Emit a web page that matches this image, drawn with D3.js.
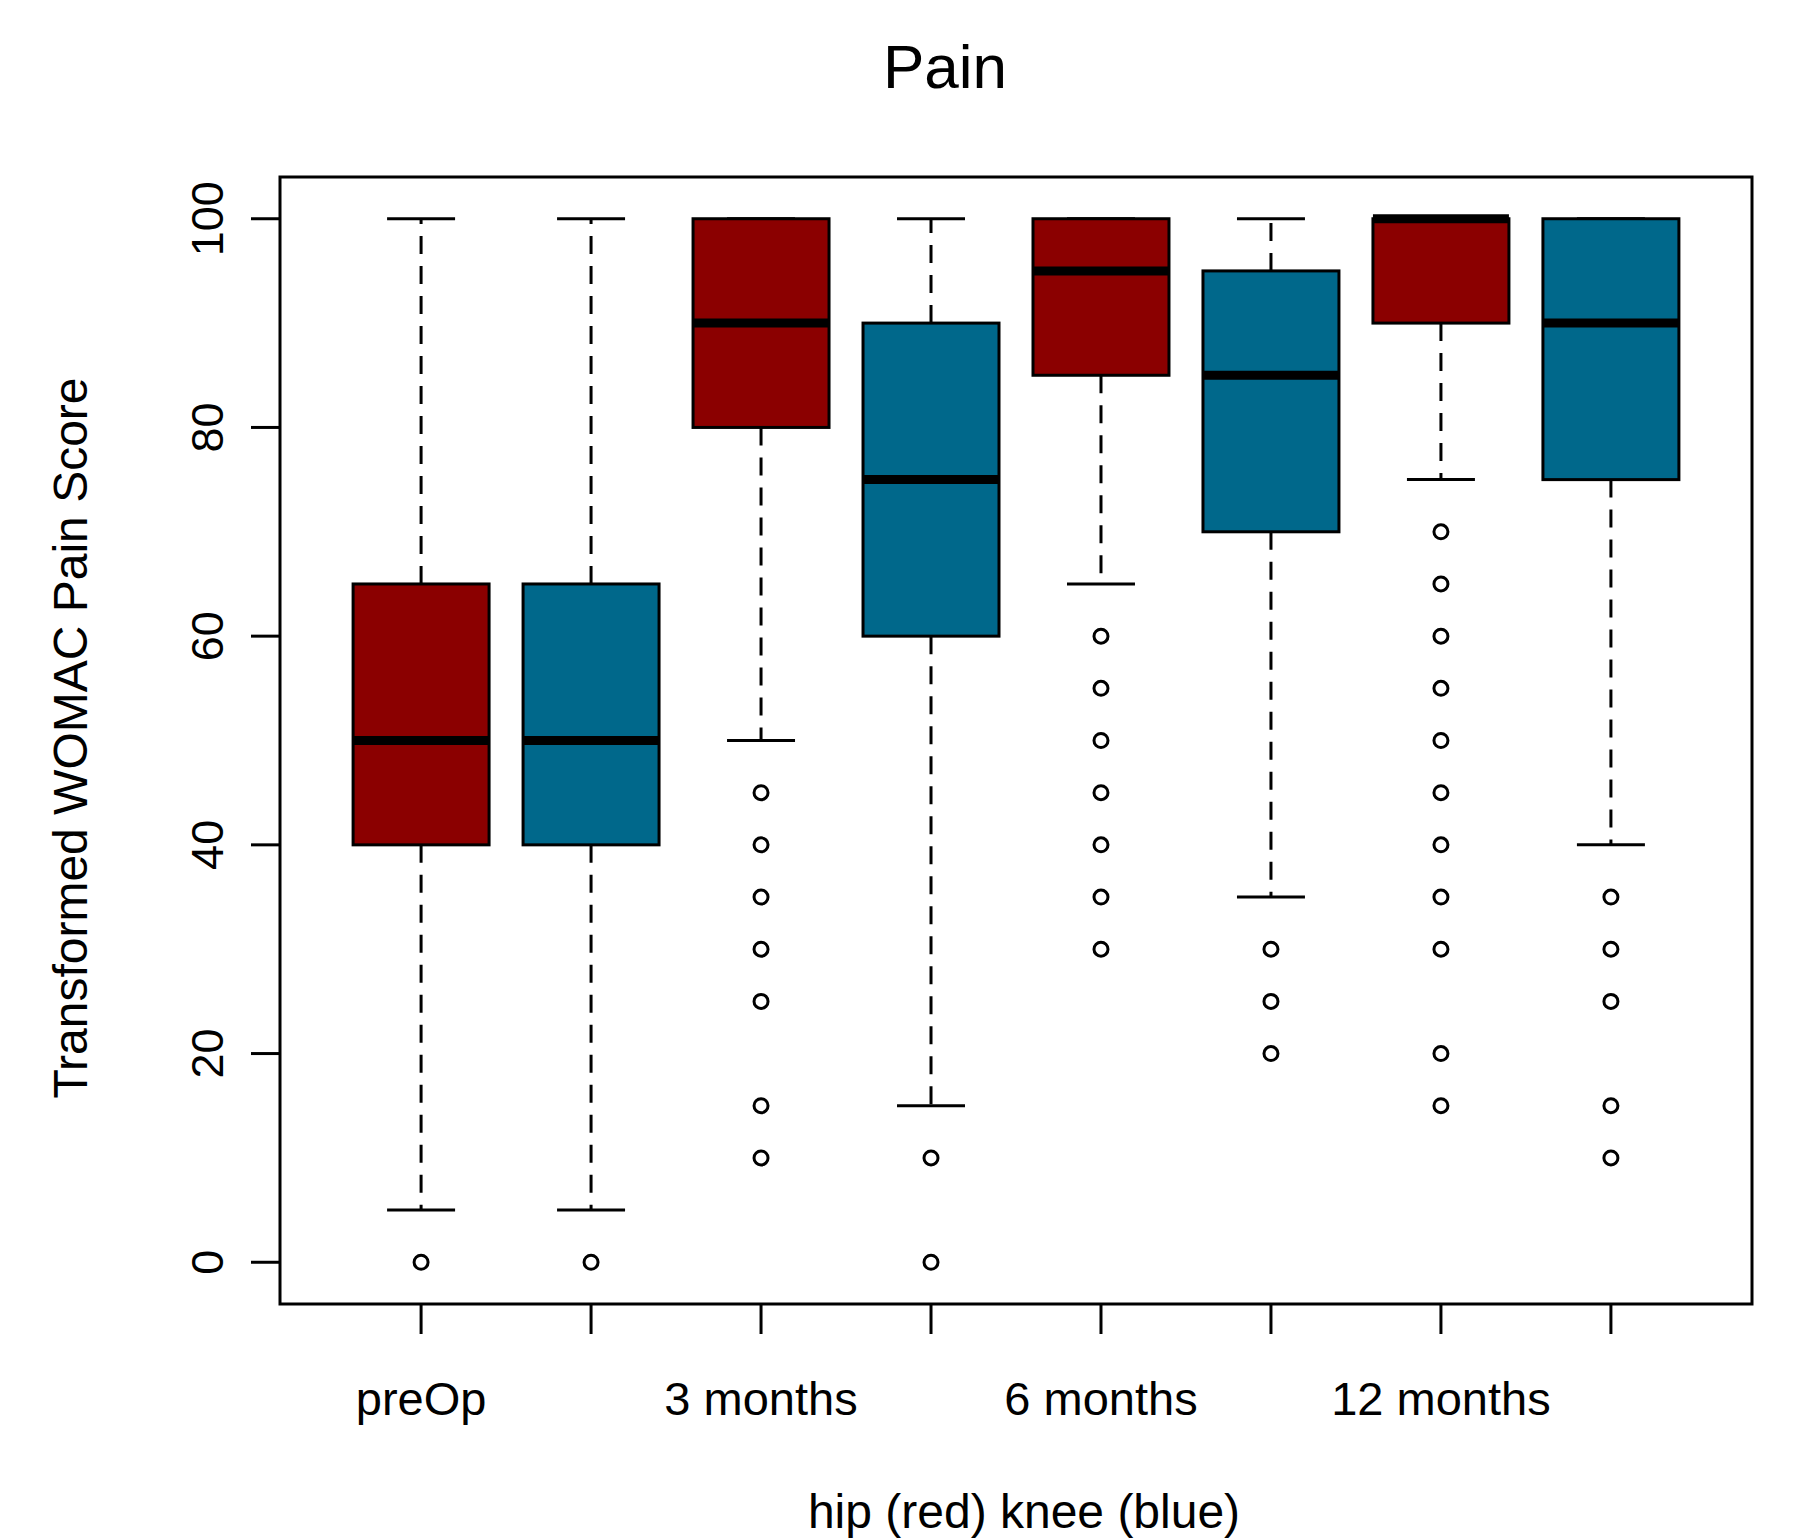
<!DOCTYPE html>
<html>
<head>
<meta charset="utf-8">
<script src="https://cdn.jsdelivr.net/npm/d3@7.9.0/dist/d3.min.js"></script>
<style>
  body { margin: 0; background: #fff; }
  text { font-family: "Liberation Sans", Arial, sans-serif; fill: #000; }
</style>
</head>
<body>
<svg id="chart" width="1794" height="1540"></svg>
<script>
// Box stats, one entry per box (hip, knee alternating)
const groups = ['hip', 'knee', 'hip', 'knee', 'hip', 'knee', 'hip', 'knee'];
const lowerWhisker = [5, 5, 50, 15, 65, 35, 75, 40];
const q1 = [40, 40, 80, 60, 85, 70, 90, 75];
const medians = [50, 50, 90, 75, 95, 85, 100, 90];
const q3 = [65, 65, 100, 90, 100, 95, 100, 100];
const upperWhisker = [100, 100, 100, 100, 100, 100, 100, 100];
const outliers = [
  [0],
  [0],
  [45, 40, 35, 30, 25, 15, 10],
  [10, 0],
  [60, 55, 50, 45, 40, 35, 30],
  [30, 25, 20],
  [70, 65, 60, 55, 50, 45, 40, 35, 30, 20, 15],
  [35, 30, 25, 15, 10]
];
const tickLabels = ['preOp', '', '3 months', '', '6 months', '', '12 months', ''];
const yTicks = [0, 20, 40, 60, 80, 100];

const colors = { hip: '#8b0000', knee: '#00688b' };

const boxes = groups.map((g, i) => ({
  pos: i + 1, group: g,
  lo: lowerWhisker[i], q1: q1[i], med: medians[i], q3: q3[i], hi: upperWhisker[i],
  out: outliers[i]
}));

const svg = d3.select('#chart');
const plot = { left: 280, right: 1752, top: 177, bottom: 1304 };

const x = d3.scaleLinear().domain([0.17, 8.83]).range([plot.left, plot.right]);
const y = d3.scaleLinear().domain([-4, 104]).range([plot.bottom, plot.top]);

const boxW = x(1.4) - x(1);    // half box width
const capW = boxW / 2;

// whiskers, staples, boxes, medians, outliers
const g = svg.append('g');
boxes.forEach(d => {
  const cx = x(d.pos);
  if (d.hi > d.q3) {
    g.append('line').attr('x1', cx).attr('x2', cx).attr('y1', y(d.q3)).attr('y2', y(d.hi))
      .attr('stroke', '#000').attr('stroke-width', 3).attr('stroke-dasharray', '18,12');
  }
  if (d.lo < d.q1) {
    g.append('line').attr('x1', cx).attr('x2', cx).attr('y1', y(d.q1)).attr('y2', y(d.lo))
      .attr('stroke', '#000').attr('stroke-width', 3).attr('stroke-dasharray', '18,12');
  }
  [d.lo, d.hi].forEach(v => {
    g.append('line').attr('x1', cx - capW).attr('x2', cx + capW)
      .attr('y1', y(v)).attr('y2', y(v))
      .attr('stroke', '#000').attr('stroke-width', 3);
  });
  g.append('rect')
    .attr('x', cx - boxW).attr('width', boxW * 2)
    .attr('y', y(d.q3)).attr('height', y(d.q1) - y(d.q3))
    .attr('fill', colors[d.group]).attr('stroke', '#000').attr('stroke-width', 3);
  g.append('line').attr('x1', cx - boxW).attr('x2', cx + boxW)
    .attr('y1', y(d.med)).attr('y2', y(d.med))
    .attr('stroke', '#000').attr('stroke-width', 9);
  g.selectAll(null).data(d.out).enter().append('circle')
    .attr('cx', cx).attr('cy', v => y(v)).attr('r', 7)
    .attr('fill', 'none').attr('stroke', '#000').attr('stroke-width', 3);
});

// frame
svg.append('rect')
  .attr('x', plot.left).attr('y', plot.top)
  .attr('width', plot.right - plot.left).attr('height', plot.bottom - plot.top)
  .attr('fill', 'none').attr('stroke', '#000').attr('stroke-width', 3);

// y axis
const yAxis = svg.append('g');
yAxis.selectAll('line').data(yTicks).enter().append('line')
  .attr('x1', plot.left - 29).attr('x2', plot.left)
  .attr('y1', d => y(d)).attr('y2', d => y(d))
  .attr('stroke', '#000').attr('stroke-width', 3);
yAxis.selectAll('text').data(yTicks).enter().append('text')
  .attr('transform', d => `translate(223,${y(d)}) rotate(-90)`)
  .attr('text-anchor', 'middle')
  .style('font-size', '45px')
  .text(d => d);

// x axis
const xAxis = svg.append('g');
xAxis.selectAll('line').data(boxes).enter().append('line')
  .attr('x1', d => x(d.pos)).attr('x2', d => x(d.pos))
  .attr('y1', plot.bottom).attr('y2', plot.bottom + 30)
  .attr('stroke', '#000').attr('stroke-width', 3);
xAxis.selectAll('text').data(boxes.filter((d, i) => tickLabels[i])).enter().append('text')
  .attr('x', d => x(d.pos)).attr('y', 1415)
  .attr('text-anchor', 'middle')
  .style('font-size', '47px')
  .text(d => tickLabels[d.pos - 1]);

// titles
svg.append('text').attr('x', 945).attr('y', 88).attr('text-anchor', 'middle')
  .style('font-size', '62px').text('Pain');
svg.append('text').attr('x', 1024).attr('y', 1528).attr('text-anchor', 'middle')
  .style('font-size', '48px').text('hip (red) knee (blue)');
svg.append('text').attr('transform', 'translate(87,738) rotate(-90)')
  .attr('text-anchor', 'middle')
  .style('font-size', '48px').text('Transformed WOMAC Pain Score');
</script>
</body>
</html>
